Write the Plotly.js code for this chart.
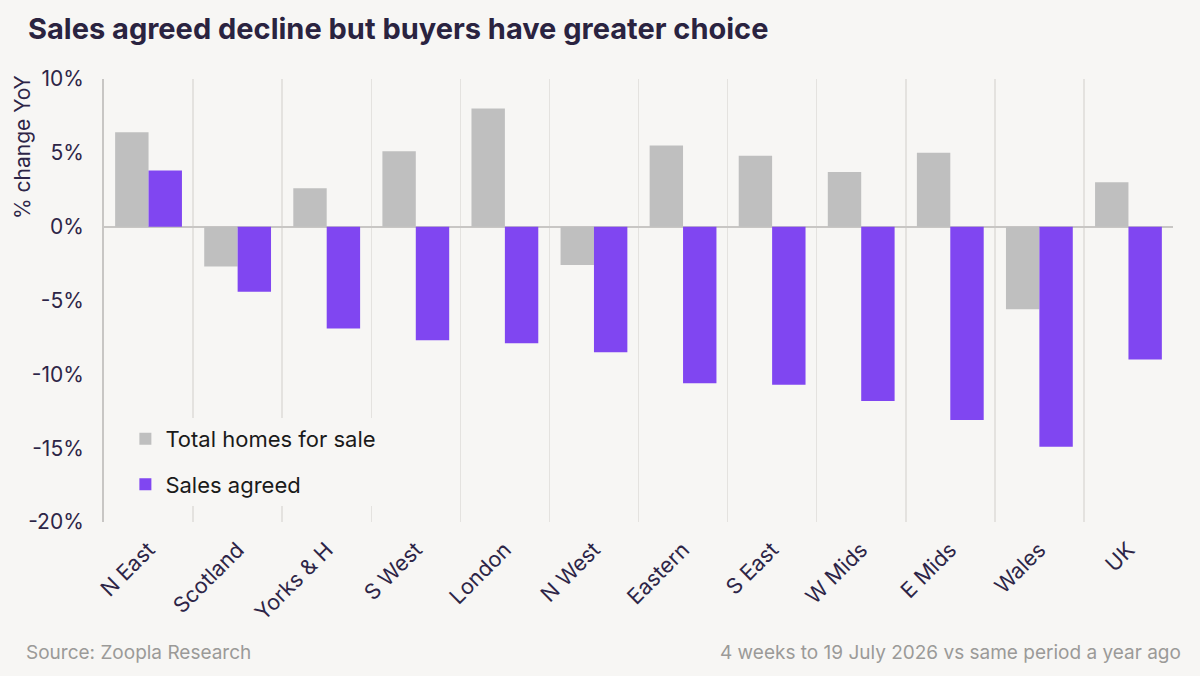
<!DOCTYPE html>
<html>
<head>
<meta charset="utf-8">
<script src="https://cdn.plot.ly/plotly-3.0.1.min.js"></script>
<style>
  html, body { margin: 0; padding: 0; background: #f7f6f4; }
  #chart { width: 1200px; height: 676px; }
</style>
</head>
<body>
<div id="chart"></div>
<script>
// Regions, year-on-year % change
const regions = ["N East", "Scotland", "Yorks & H", "S West", "London", "N West",
                 "Eastern", "S East", "W Mids", "E Mids", "Wales", "UK"];
const totalHomesForSale = [6.4, -2.7, 2.6, 5.1, 8.0, -2.6, 5.5, 4.8, 3.7, 5.0, -5.6, 3.0];
const salesAgreed = [3.8, -4.4, -6.9, -7.7, -7.9, -8.5, -10.6, -10.7, -11.8, -13.1, -14.9, -9.0];
const yTickValues = [10, 5, 0, -5, -10, -15, -20];
const yTickLabels = ["10%", "5%", "0%", "-5%", "-10%", "-15%", "-20%"];

const ink = "#2d2547";
const bg = "#f7f6f4";
const font = "Inter, 'Noto Sans', sans-serif";

const traces = [
  {
    type: "bar",
    name: "Total homes for sale",
    x: regions,
    y: totalHomesForSale,
    marker: { color: "#bfbfbf" },
    legendgroup: "homes",
    hoverinfo: "x+y"
  },
  {
    type: "bar",
    name: "Sales agreed",
    x: regions,
    y: salesAgreed,
    marker: { color: "#8046f1" },
    legendgroup: "sales",
    hoverinfo: "x+y"
  }
];

const layout = {
  width: 1200,
  height: 676,
  paper_bgcolor: bg,
  plot_bgcolor: bg,
  font: { family: font, color: ink },
  margin: { l: 104, r: 27, t: 79, b: 154 },
  barmode: "group",
  bargap: 0.25,
  bargroupgap: 0,
  title: {
    text: "<b>Sales agreed decline but buyers have greater choice</b>",
    font: { family: font, size: 29, color: "#2a2340" },
    x: 28 / 1200, xanchor: "left",
    y: 1 - 29 / 676, yanchor: "middle"
  },
  xaxis: {
    type: "category",
    tickson: "boundaries",
    showgrid: true,
    gridcolor: "#e4e2df",
    gridwidth: 1.5,
    ticks: "",
    tickangle: -45,
    ticklabelstandoff: 10,
    tickfont: { family: font, size: 21.5, color: ink },
    showline: false,
    zeroline: false
  },
  yaxis: {
    range: [-20, 10],
    tickvals: yTickValues,
    ticktext: yTickLabels,
    tickfont: { family: font, size: 21, color: ink },
    ticks: "",
    ticklabelstandoff: 14,
    showgrid: false,
    zeroline: true,
    zerolinecolor: "#c8c6c4",
    zerolinewidth: 2,
    showline: true,
    linecolor: "#c8c6c4",
    linewidth: 2
  },
  showlegend: true,
  legend: {
    x: 0.02, xanchor: "left",
    y: 0.235, yanchor: "top",
    bgcolor: bg,
    font: { family: font, size: 22, color: "#1a1a1a" },
    traceorder: "grouped",
    tracegroupgap: 14,
    itemwidth: 30
  },
  annotations: [
    {
      text: "% change YoY",
      textangle: -90,
      xref: "paper", yref: "paper",
      x: -82 / 1069, xanchor: "center",
      y: 1 + 6 / 443, yanchor: "top",
      showarrow: false,
      font: { family: font, size: 21, color: ink }
    },
    {
      text: "Source: Zoopla Research",
      xref: "paper", yref: "paper",
      x: -80 / 1069, xanchor: "left",
      y: -130 / 443, yanchor: "middle",
      showarrow: false,
      font: { family: font, size: 19, color: "#9b9a98" }
    },
    {
      text: "4 weeks to 19 July 2026 vs same period a year ago",
      xref: "paper", yref: "paper",
      x: 1 + 10 / 1069, xanchor: "right",
      y: -130 / 443, yanchor: "middle",
      showarrow: false,
      font: { family: font, size: 19, color: "#9b9a98" }
    }
  ]
};

Plotly.newPlot("chart", traces, layout, { displayModeBar: false, staticPlot: true });
</script>
</body>
</html>
